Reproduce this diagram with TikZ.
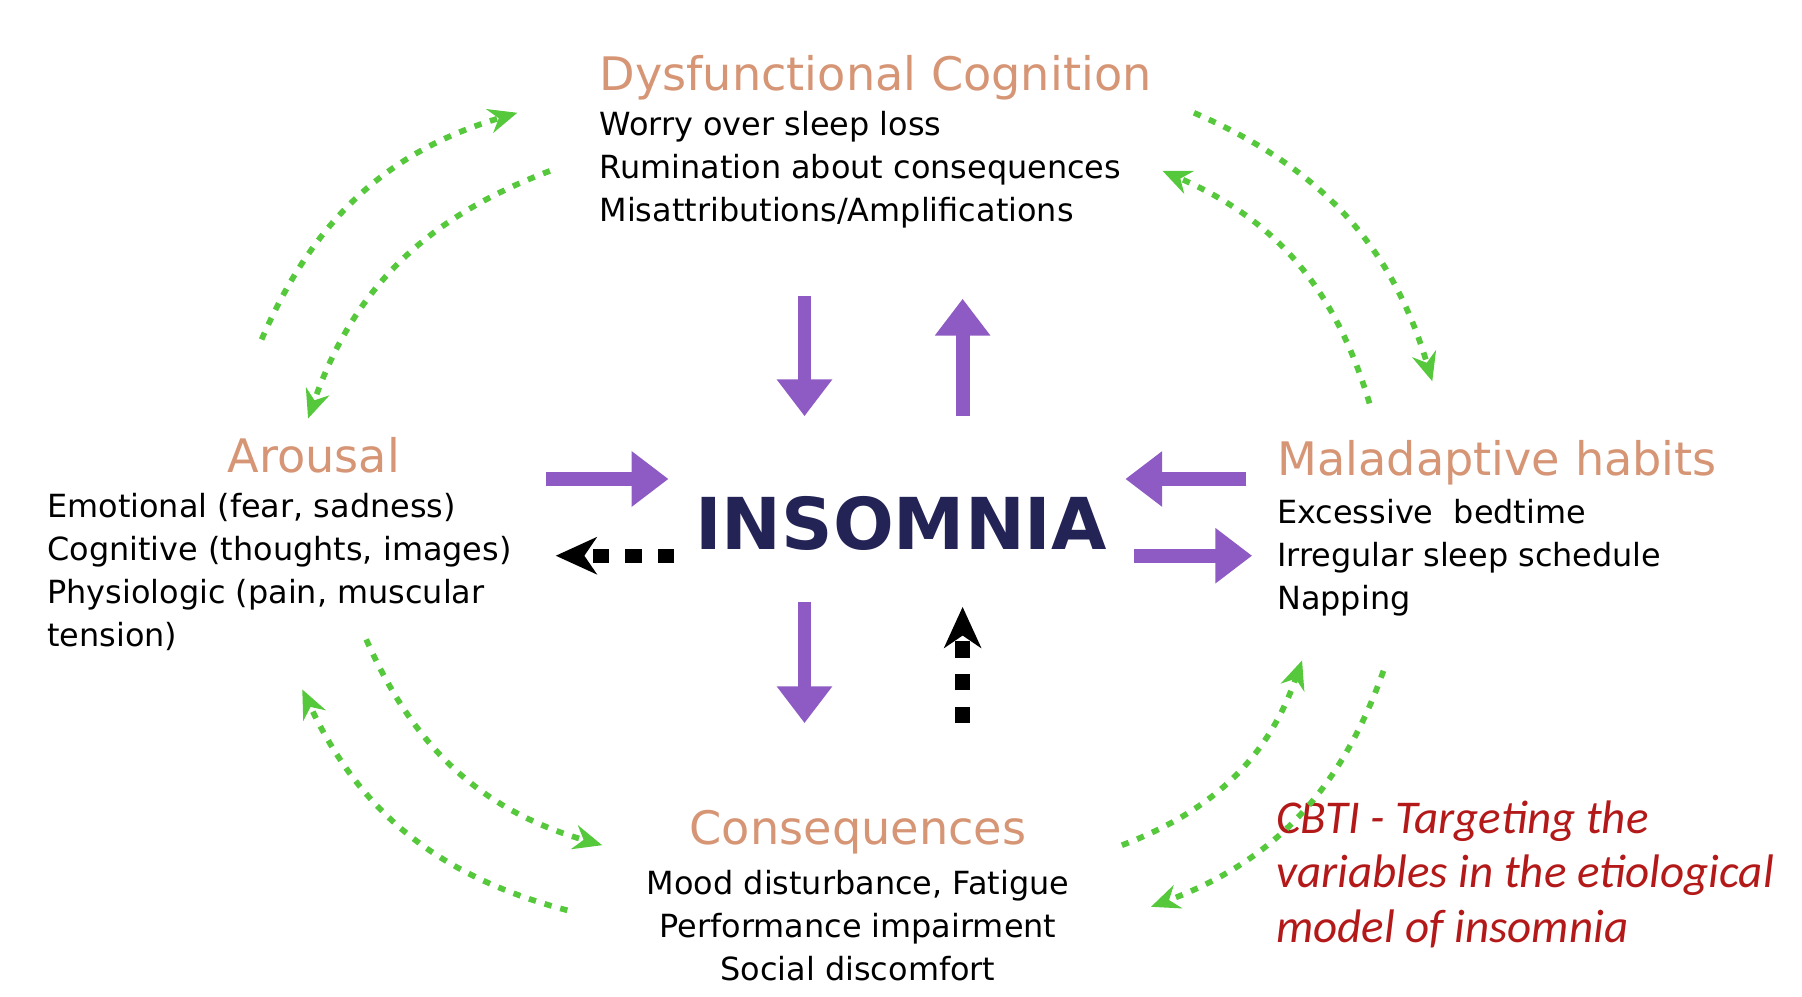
\documentclass[tikz,border=0pt]{standalone}
\usepackage{fontspec}
\setmainfont{DejaVu Sans}
\newfontfamily\calib{Carlito}
\usetikzlibrary{arrows.meta}
\definecolor{tan}{RGB}{214,150,118}
\definecolor{navy}{RGB}{35,35,85}
\definecolor{purp}{RGB}{142,90,195}
\definecolor{grn}{RGB}{85,200,60}
\definecolor{dred}{RGB}{180,25,25}
\begin{document}
\begin{tikzpicture}[x=0.01cm,y=-0.01cm,
 ttl/.style={text=tan,font=\fontsize{11.3}{13}\selectfont,inner sep=0},
 body/.style={font=\fontsize{7.8}{10.5}\selectfont,inner sep=0,align=left},
 garr/.style={grn,line width=1.4pt,dash pattern=on 1.8pt off 2.2pt,-{Stealth[length=7pt,width=6pt]}},
 parr/.style={purp,line width=3.4pt,-{Triangle[length=9pt,width=13pt]}},
 karr/.style={black,line width=3.5pt,dash pattern=on 4pt off 4pt,-{Stealth[length=10pt,width=9pt,inset=3pt]}}]
\useasboundingbox (0,0) rectangle (1550,857);
\node[ttl,anchor=base west] (dc) at (515,78) {Dysfunctional Cognition};
\node[body,anchor=north west] (dct) at (515,95) {Worry over sleep loss\\Rumination about consequences\\Misattributions/Amplifications};
\node[ttl] (ar) at (270,392) {Arousal};
\node[body,anchor=north west] (art) at (40,424) {Emotional (fear, sadness)\\Cognitive (thoughts, images)\\Physiologic (pain, muscular\\tension)};
\node[ttl,anchor=west] (mh) at (1098,398) {Maladaptive habits};
\node[body,anchor=north west] (mht) at (1098,429) {Excessive\ \ bedtime\\Irregular sleep schedule\\Napping};
\node[ttl] (co) at (738,716) {Consequences};
\node[body,align=center,anchor=north] (cot) at (738,748) {Mood disturbance, Fatigue\\Performance impairment\\Social discomfort};
\node[text=navy,font=\fontsize{17.5}{20}\selectfont\bfseries,inner sep=0] (ins) at (775,450) {INSOMNIA};
\node[text=dred,font=\calib\itshape\fontsize{11.5}{13.3}\selectfont,align=left,anchor=north west,inner sep=0] (cb) at (1097,688) {CBTI - Targeting the\\variables in the etiological\\model of insomnia};
% green
\coordinate (g1a) at (225,292); \coordinate (g1b) at (445,97);
\coordinate (g2a) at (473,147); \coordinate (g2b) at (265,360);
\coordinate (g3a) at (1027,97); \coordinate (g3b) at (1232,328);
\coordinate (g4a) at (1178,347); \coordinate (g4b) at (1000,147);
\coordinate (g5a) at (315,550); \coordinate (g5b) at (518,727);
\coordinate (g6a) at (488,783); \coordinate (g6b) at (260,593);
\coordinate (g7a) at (965,727); \coordinate (g7b) at (1120,568);
\coordinate (g8a) at (1190,577); \coordinate (g8b) at (990,780);
\draw[garr] (g1a) to[bend left=25] (g1b);
\draw[garr] (g2a) to[bend right=25] (g2b);
\draw[garr] (g3a) to[bend left=25] (g3b);
\draw[garr] (g4a) to[bend right=25] (g4b);
\draw[garr] (g5a) to[bend right=25] (g5b);
\draw[garr] (g6a) to[bend left=25] (g6b);
\draw[garr] (g7a) to[bend right=25] (g7b);
\draw[garr] (g8a) to[bend left=25] (g8b);
% purple
\coordinate (p1a) at (692,255); \coordinate (p1b) at (692,358);
\coordinate (p2a) at (828,358); \coordinate (p2b) at (828,257);
\coordinate (p3a) at (470,412); \coordinate (p3b) at (575,412);
\coordinate (p4a) at (1072,412); \coordinate (p4b) at (968,412);
\coordinate (p5a) at (975,478); \coordinate (p5b) at (1077,478);
\coordinate (p6a) at (692,518); \coordinate (p6b) at (692,622);
\foreach \i in {1,...,6} \draw[parr] (p\i a) -- (p\i b);
\coordinate (k1a) at (580,478); \coordinate (k1b) at (478,478);
\coordinate (k2a) at (828,622); \coordinate (k2b) at (828,522);
\draw[karr] (k1a) -- (k1b);
\draw[karr] (k2a) -- (k2b);
\end{tikzpicture}
\end{document}
